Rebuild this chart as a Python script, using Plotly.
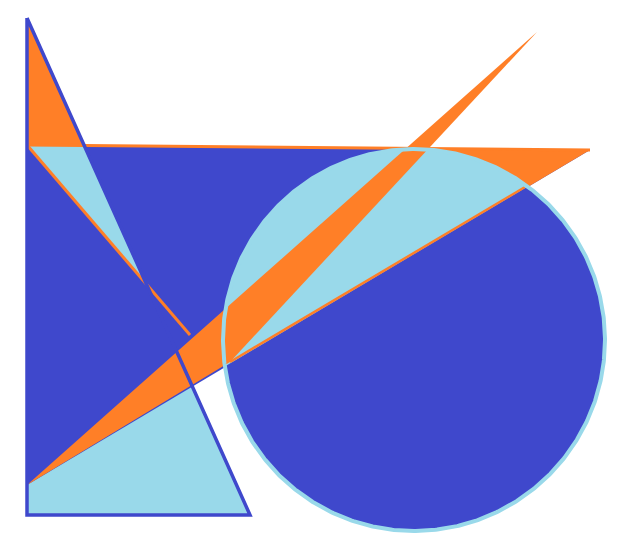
import numpy as np
import plotly.graph_objects as go

DARK = "#3F48CC"
LIGHT = "#99D9EA"
ORANGE = "#FF7F27"

# shape vertices (pixel space)
tri_T_x = [27, 27, 250]
tri_T_y = [18, 515, 515]
tri_Q_x = [27, 590, 27]
tri_Q_y = [145, 150, 485]
tip_x = [27, 27, 84]
tip_y = [18, 145, 145]
strip_x = [27, 84, 146]
strip_y = [145, 145, 284]
band_x = [27, 537, 230]
band_y = [485, 32, 362]
wedge_x = [413, 590, 413]
wedge_y = [148, 150, 255]
circle_c = (414, 340)
circle_r = 191
line_top = ([27, 590], [145, 150])
line_L1 = ([27, 190], [145, 335])
line_S2 = ([230, 525], [362, 187])

fig = go.Figure()

def poly(xs, ys, color, line_color=None, lw=0):
    fig.add_trace(go.Scatter(x=list(xs), y=list(ys), fill="toself", fillcolor=color,
                             mode="lines", line=dict(color=line_color or color, width=lw),
                             hoverinfo="skip", showlegend=False))

def seg(xs, ys, color, lw):
    fig.add_trace(go.Scatter(x=xs, y=ys, mode="lines", line=dict(color=color, width=lw),
                             hoverinfo="skip", showlegend=False))

t = np.linspace(0, 2 * np.pi, 721)[:-1]
cx = circle_c[0] + circle_r * np.cos(t)
cy = circle_c[1] + circle_r * np.sin(t)

poly(tri_T_x, tri_T_y, LIGHT)
poly(tri_Q_x, tri_Q_y, DARK)
poly(wedge_x, wedge_y, ORANGE)
poly(cx, cy, DARK)

(x1, y1), (x2, y2) = (tri_Q_x[2], tri_Q_y[2]), (tri_Q_x[1], tri_Q_y[1])
liney = y1 + (y2 - y1) * (cx - x1) / (x2 - x1)
mask = cy < liney
start = np.where(mask & ~np.roll(mask, 1))[0][0]
idx = np.roll(np.arange(len(t)), -start)
idx = idx[mask[idx]]
poly(cx[idx], cy[idx], LIGHT)

poly(band_x, band_y, ORANGE)
poly(tip_x, tip_y, ORANGE)
poly(strip_x, strip_y, LIGHT)
seg(*line_top, ORANGE, 3)
seg(*line_L1, ORANGE, 3)
seg(*line_S2, ORANGE, 2.5)
seg(tri_T_x + [tri_T_x[0]], tri_T_y + [tri_T_y[0]], DARK, 3.5)
seg(list(cx) + [cx[0]], list(cy) + [cy[0]], LIGHT, 4)

# page body has an 8px margin, so offset the ranges to keep pixel positions
fig.update_layout(width=623, height=552, margin=dict(l=0, r=0, t=0, b=0),
                  paper_bgcolor="white", plot_bgcolor="white",
                  xaxis=dict(range=[8, 631], visible=False),
                  yaxis=dict(range=[560, 8], visible=False))
fig.write_html("out.html")
